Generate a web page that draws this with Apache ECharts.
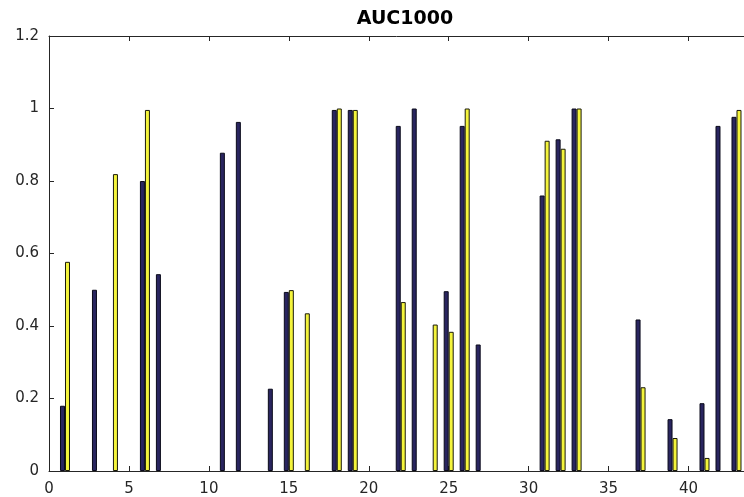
<!DOCTYPE html>
<html>
<head>
<meta charset="utf-8">
<script src="https://cdn.jsdelivr.net/npm/echarts@6/dist/echarts.min.js"></script>
<style>
  html, body { margin: 0; padding: 0; background: #fff; }
  #chart { width: 744px; height: 497px; }
</style>
</head>
<body>
<div id="chart"></div>
<script>
// Experiment indices along the x axis
const categories = [1, 2, 3, 4, 5, 6, 7, 8, 9, 10, 11, 12, 13, 14, 15, 16, 17, 18, 19, 20, 21,
  22, 23, 24, 25, 26, 27, 28, 29, 30, 31, 32, 33, 34, 35, 36, 37, 38, 39, 40, 41, 42, 43];

// AUC values, first method (dark bars)
const aucA = [0.18, 0, 0.5, 0, 0, 0.8, 0.543, 0, 0, 0, 0.878, 0.963, 0, 0.227, 0.494, 0, 0,
  0.996, 0.996, 0, 0, 0.952, 1.0, 0, 0.496, 0.952, 0.349, 0, 0, 0, 0.76, 0.915, 1.0, 0, 0, 0,
  0.418, 0, 0.143, 0, 0.187, 0.952, 0.977];

// AUC values, second method (yellow bars)
const aucB = [0.577, 0, 0, 0.819, 0, 0.996, 0, 0, 0, 0, 0, 0, 0, 0, 0.499, 0.435, 0,
  1.0, 0.996, 0, 0, 0.466, 0, 0.404, 0.384, 1.0, 0, 0, 0, 0, 0.911, 0.889, 1.0, 0, 0, 0,
  0.231, 0, 0.091, 0, 0.036, 0, 0.996];

const xTicks = [0, 5, 10, 15, 20, 25, 30, 35, 40];
const yTicks = [0, 0.2, 0.4, 0.6, 0.8, 1, 1.2];

const textColor = '#262626';
const font = 'DejaVu Sans';

// the visible part of the x range ends just short of 44
const xMax = 43.47;

const chart = echarts.init(document.getElementById('chart'), null, { renderer: 'canvas' });

// zero-height bars coincide with the baseline, so they are left out
const pairs = vals => categories.map((c, i) => [c, vals[i] === 0 ? null : vals[i]]);

const axisLine = { show: true, lineStyle: { color: '#262626', width: 1 } };
const axisTick = { show: true, inside: true, length: 5, lineStyle: { color: '#262626' } };
const xLabelFmt = v => (xTicks.indexOf(v) >= 0 ? String(v) : '');

chart.setOption({
  animation: false,
  title: {
    text: 'AUC1000',
    left: 400,
    top: 5,
    textAlign: 'center',
    textStyle: { fontFamily: font, fontWeight: 'bold', fontSize: 19, color: '#000' }
  },
  grid: { left: 49, right: 0, top: 36, height: 435, containLabel: false },
  xAxis: [{
    type: 'value',
    min: 0, max: xMax, interval: 5,
    axisLine, axisTick,
    axisLabel: {
      fontFamily: font, fontSize: 15, color: textColor, margin: 11, showMaxLabel: false,
      formatter: xLabelFmt
    },
    splitLine: { show: false }
  }, {
    type: 'value',
    position: 'top',
    min: 0, max: xMax, interval: 5,
    axisLine, axisTick,
    axisLabel: { show: false },
    splitLine: { show: false }
  }],
  yAxis: {
    type: 'value',
    min: 0, max: 1.2, interval: 0.2,
    axisLine, axisTick,
    axisLabel: {
      fontFamily: font, fontSize: 15, color: textColor, margin: 10,
      formatter: v => {
        const t = yTicks.find(k => Math.abs(k - v) < 1e-9);
        return t === undefined ? '' : String(t);
      }
    },
    splitLine: { show: false }
  },
  series: [{
    type: 'bar',
    xAxisIndex: 0,
    data: pairs(aucA),
    barWidth: 5,
    barGap: '0%',
    itemStyle: { color: '#29255f', borderColor: '#0a0a1a', borderWidth: 1 }
  }, {
    type: 'bar',
    xAxisIndex: 0,
    data: pairs(aucB),
    barWidth: 5,
    barGap: '0%',
    itemStyle: { color: '#f4f43c', borderColor: '#1a1a0a', borderWidth: 1 }
  }]
});
</script>
</body>
</html>
